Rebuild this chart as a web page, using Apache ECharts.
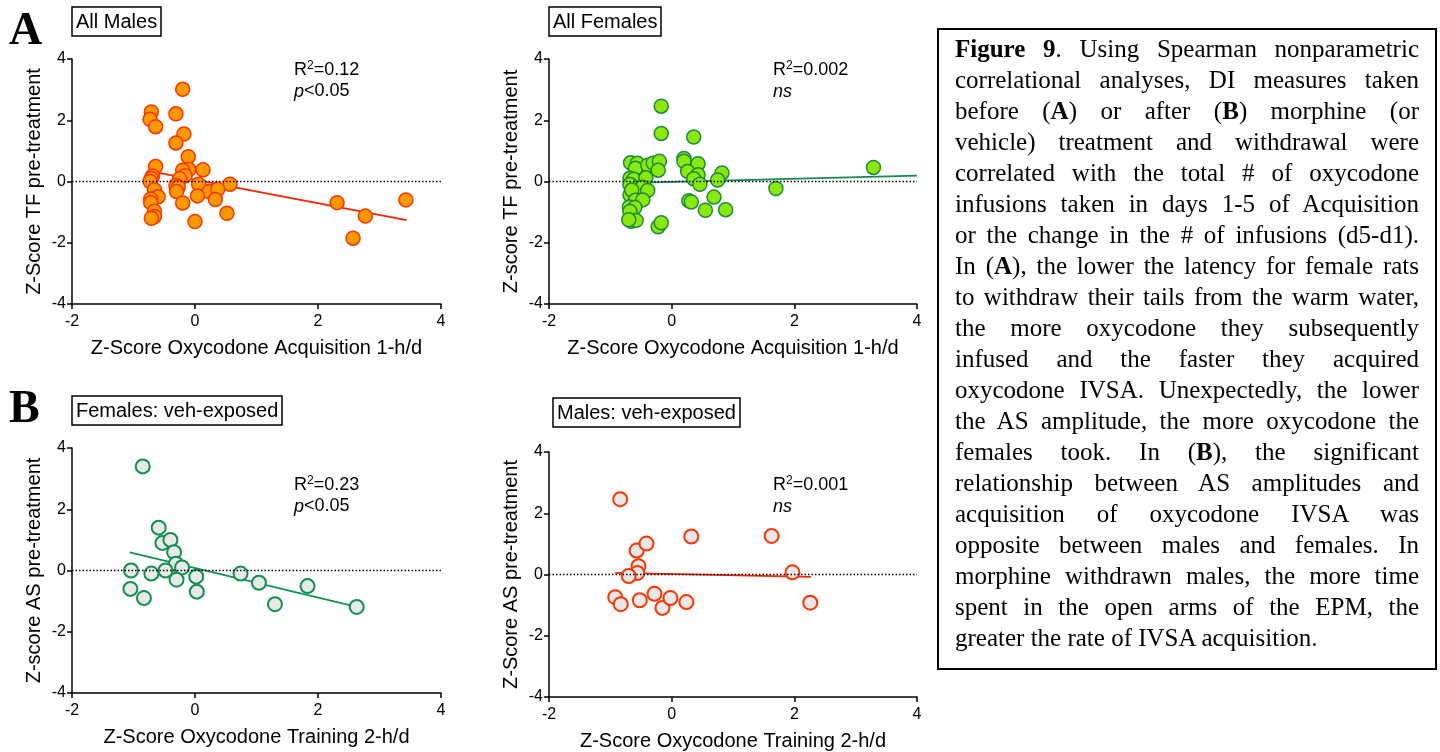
<!DOCTYPE html>
<html>
<head>
<meta charset="utf-8">
<title>Figure 9</title>
<script src="https://cdn.jsdelivr.net/npm/echarts@6/dist/echarts.min.js"></script>
<style>
  html, body { margin: 0; padding: 0; background: #fff; }
  #chart { position: absolute; left: 0; top: 0; width: 1440px; height: 752px; }
  #caption {
    position: absolute; left: 937px; top: 28px; width: 500px; height: 642px;
    box-sizing: border-box; border: 2px solid #000; padding: 3px 16px 0 16px;
    font-family: 'Liberation Serif', 'Times New Roman', serif; font-size: 25px; line-height: 31px; color: #000;
  }
  #caption div { text-align: justify; text-align-last: justify; white-space: nowrap; }
  #caption div.last { text-align-last: left; }
</style>
</head>
<body>
<div id="chart"></div>
<div id="caption">
  <div><b>Figure 9</b>. Using Spearman nonparametric</div>
  <div>correlational analyses, DI measures taken</div>
  <div>before (<b>A</b>) or after (<b>B</b>) morphine (or</div>
  <div>vehicle) treatment and withdrawal were</div>
  <div>correlated with the total # of oxycodone</div>
  <div>infusions taken in days 1-5 of Acquisition</div>
  <div>or the change in the # of infusions (d5-d1).</div>
  <div>In (<b>A</b>), the lower the latency for female rats</div>
  <div>to withdraw their tails from the warm water,</div>
  <div>the more oxycodone they subsequently</div>
  <div>infused and the faster they acquired</div>
  <div>oxycodone IVSA. Unexpectedly, the lower</div>
  <div>the AS amplitude, the more oxycodone the</div>
  <div>females took. In (<b>B</b>), the significant</div>
  <div>relationship between AS amplitudes and</div>
  <div>acquisition of oxycodone IVSA was</div>
  <div>opposite between males and females. In</div>
  <div>morphine withdrawn males, the more time</div>
  <div>spent in the open arms of the EPM, the</div>
  <div class="last">greater the rate of IVSA acquisition.</div>
</div>
<script>
// ---- data ----
const allMales = [
  [-0.20, 3.01], [-0.71, 2.27], [-0.73, 2.03], [-0.64, 1.79], [-0.31, 2.21],
  [-0.18, 1.55], [-0.31, 1.26], [-0.11, 0.81], [-0.64, 0.49], [-0.10, 0.39],
  [-0.20, 0.37], [0.13, 0.38], [-0.16, 0.19], [-0.69, 0.18], [-0.71, 0.10],
  [-0.25, 0.09], [-0.73, 0.00], [0.06, -0.09], [0.57, -0.09], [-0.31, -0.12],
  [-0.27, -0.18], [-0.30, -0.33], [-0.66, -0.27], [-0.60, -0.50], [-0.72, -0.57],
  [-0.72, -0.69], [0.23, -0.33], [0.37, -0.25], [0.33, -0.59], [0.04, -0.47],
  [-0.20, -0.70], [0.52, -1.04], [-0.66, -0.97], [-0.66, -1.14], [-0.71, -1.20],
  [0.00, -1.31], [2.31, -0.69], [2.77, -1.13], [2.57, -1.85], [3.43, -0.60]
];
const allMalesFit = [[-0.63, 0.30], [3.44, -1.26]];

const allFemales = [
  [-0.17, 2.46], [-0.17, 1.57], [0.36, 1.45], [-0.67, 0.61], [-0.56, 0.60],
  [-0.59, 0.43], [-0.39, 0.53], [-0.30, 0.60], [-0.20, 0.66], [-0.22, 0.37],
  [0.20, 0.75], [0.20, 0.66], [0.43, 0.58], [0.26, 0.33], [0.43, 0.22],
  [0.36, 0.09], [0.46, -0.09], [0.82, 0.28], [0.75, 0.05], [0.69, -0.51],
  [0.28, -0.63], [0.32, -0.67], [0.55, -0.94], [0.88, -0.92], [-0.22, -1.48],
  [-0.17, -1.35], [-0.68, 0.11], [-0.62, 0.07], [-0.42, 0.12], [-0.68, -0.10],
  [-0.48, -0.19], [-0.39, -0.29], [-0.68, -0.44], [-0.65, -0.28], [-0.59, -0.61],
  [-0.47, -0.60], [-0.69, -0.83], [-0.60, -0.85], [-0.68, -0.98], [-0.66, -1.30],
  [-0.58, -1.27], [-0.70, -1.25], [1.70, -0.23], [3.29, 0.46]
];
const allFemalesFit = [[-0.47, -0.04], [4.0, 0.19]];

const vehFemales = [
  [-0.85, 3.40], [-0.59, 1.40], [-0.53, 0.90], [-0.40, 1.00], [-0.34, 0.60],
  [-0.31, 0.22], [-0.21, 0.10], [-0.48, 0.00], [-0.71, -0.10], [-1.04, 0.00],
  [-1.05, -0.60], [-0.83, -0.90], [-0.30, -0.30], [0.02, -0.20], [0.03, -0.69],
  [0.74, -0.10], [1.04, -0.40], [1.30, -1.10], [1.83, -0.51], [2.63, -1.19]
];
const vehFemalesFit = [[-1.06, 0.59], [2.63, -1.19]];

const vehMales = [
  [-0.84, 2.46], [-0.57, 0.78], [-0.41, 1.01], [-0.54, 0.27], [-0.56, 0.05],
  [-0.70, -0.05], [0.32, 1.24], [1.63, 1.26], [1.97, 0.07], [-0.92, -0.74],
  [-0.83, -0.97], [-0.52, -0.84], [-0.28, -0.63], [-0.15, -1.09], [-0.02, -0.77],
  [0.24, -0.90], [2.26, -0.92]
];
const vehMalesFit = [[-0.92, 0.05], [2.27, -0.08]];

const panelTitles = ['All Males', 'All Females', 'Females: veh-exposed', 'Males: veh-exposed'];
const xNames = ['Z-Score Oxycodone Acquisition 1-h/d', 'Z-Score Oxycodone Acquisition 1-h/d',
                'Z-Score Oxycodone Training 2-h/d', 'Z-Score Oxycodone Training 2-h/d'];
const yNames = ['Z-Score TF pre-treatment', 'Z-score TF pre-treatment',
                'Z-score AS pre-treatment', 'Z-Score AS pre-treatment'];
const statR2 = ['0.12', '0.002', '0.23', '0.001'];
const statP = ['p<0.05', 'ns', 'p<0.05', 'ns'];

const SANS = 'Liberation Sans';

const grids = [
  { left: 72, top: 59, width: 369, height: 245 },
  { left: 549, top: 59, width: 368, height: 245 },
  { left: 72, top: 448, width: 369, height: 245 },
  { left: 549, top: 452, width: 368, height: 245 }
];

const styles = [
  { fill: '#FF9900', border: '#FF3300', line: '#FF2200', bw: 1.5 },
  { fill: '#8AE80A', border: '#1A8C40', line: '#158A50', bw: 1.5 },
  { fill: '#E8E8E8', border: '#119150', line: '#119150', bw: 2 },
  { fill: '#E8E8E8', border: '#FF3300', line: '#FF2200', bw: 2 }
];

const scatterData = [allMales, allFemales, vehFemales, vehMales];
const fitData = [allMalesFit, allFemalesFit, vehFemalesFit, vehMalesFit];

const xAxes = grids.map((g, i) => ({
  gridIndex: i, type: 'value', min: -2, max: 4, interval: 2,
  name: xNames[i], nameLocation: 'middle', nameGap: 34,
  nameTextStyle: { fontFamily: SANS, fontSize: 20, color: '#000' },
  axisLine: { onZero: false, lineStyle: { color: '#000', width: 1.5 } },
  axisTick: { inside: false, length: 5, lineStyle: { color: '#000', width: 1.5 } },
  splitLine: { show: false },
  axisLabel: { fontFamily: SANS, fontSize: 16, color: '#000', margin: 10 }
}));

const yAxes = grids.map((g, i) => ({
  gridIndex: i, type: 'value', min: -4, max: 4, interval: 2,
  name: yNames[i], nameLocation: 'middle', nameGap: 28, nameRotate: 90,
  nameTextStyle: { fontFamily: SANS, fontSize: 20, color: '#000' },
  axisLine: { show: true, onZero: false, lineStyle: { color: '#000', width: 1.5 } },
  axisTick: { show: true, inside: false, length: 5, lineStyle: { color: '#000', width: 1.5 } },
  splitLine: { show: false },
  axisLabel: { fontFamily: SANS, fontSize: 16, color: '#000', margin: 6 }
}));

const series = [];
scatterData.forEach((pts, i) => {
  const s = styles[i];
  series.push({
    type: 'line', xAxisIndex: i, yAxisIndex: i, data: fitData[i],
    showSymbol: false, symbol: 'none', silent: true, z: 3,
    lineStyle: { color: s.line, width: 1.8 },
    markLine: {
      silent: true, symbol: 'none', label: { show: false },
      lineStyle: { color: '#000', type: [1.5, 2], width: 1.4 },
      data: [{ yAxis: 0 }]
    }
  });
  series.push({
    type: 'scatter', xAxisIndex: i, yAxisIndex: i, data: pts,
    symbol: 'circle', symbolSize: 14, z: 4,
    itemStyle: { color: s.fill, borderColor: s.border, borderWidth: s.bw, opacity: 1 }
  });
});

const titles = [
  { left: 72, top: 7 }, { left: 549, top: 7 },
  { left: 72, top: 396 }, { left: 553, top: 398 }
].map((p, i) => ({
  text: panelTitles[i], left: p.left, top: p.top,
  padding: [5, 4, 4, 4], borderColor: '#000', borderWidth: 1.5,
  textStyle: { fontFamily: SANS, fontSize: 20, fontWeight: 'normal', color: '#000' }
}));

const statPos = [[294, 60], [773, 60], [294, 475], [773, 475]];
const graphics = statPos.map((p, i) => ({
  type: 'text', left: p[0], top: p[1],
  style: {
    text: '{n|R}{s|2}{n|=' + statR2[i] + '}\n' + (statP[i] === 'ns' ? '{i|ns}' : '{i|p}{n|<0.05}'),
    rich: {
      n: { fontFamily: SANS, fontSize: 18, lineHeight: 21, fill: '#000' },
      s: { fontFamily: SANS, fontSize: 12, lineHeight: 21, verticalAlign: 'top', fill: '#000' },
      i: { fontFamily: SANS, fontSize: 18, lineHeight: 21, fontStyle: 'italic', fill: '#000' }
    }
  }
}));
graphics.push(
  { type: 'text', left: 9, top: 9, style: { text: 'A', font: 'bold 46px "Liberation Serif"', fill: '#000' } },
  { type: 'text', left: 9, top: 387, style: { text: 'B', font: 'bold 46px "Liberation Serif"', fill: '#000' } }
);

const chart = echarts.init(document.getElementById('chart'), null, { renderer: 'canvas' });
chart.setOption({
  animation: false,
  backgroundColor: '#fff',
  title: titles,
  grid: grids,
  xAxis: xAxes,
  yAxis: yAxes,
  series: series,
  graphic: graphics
});
</script>
</body>
</html>
